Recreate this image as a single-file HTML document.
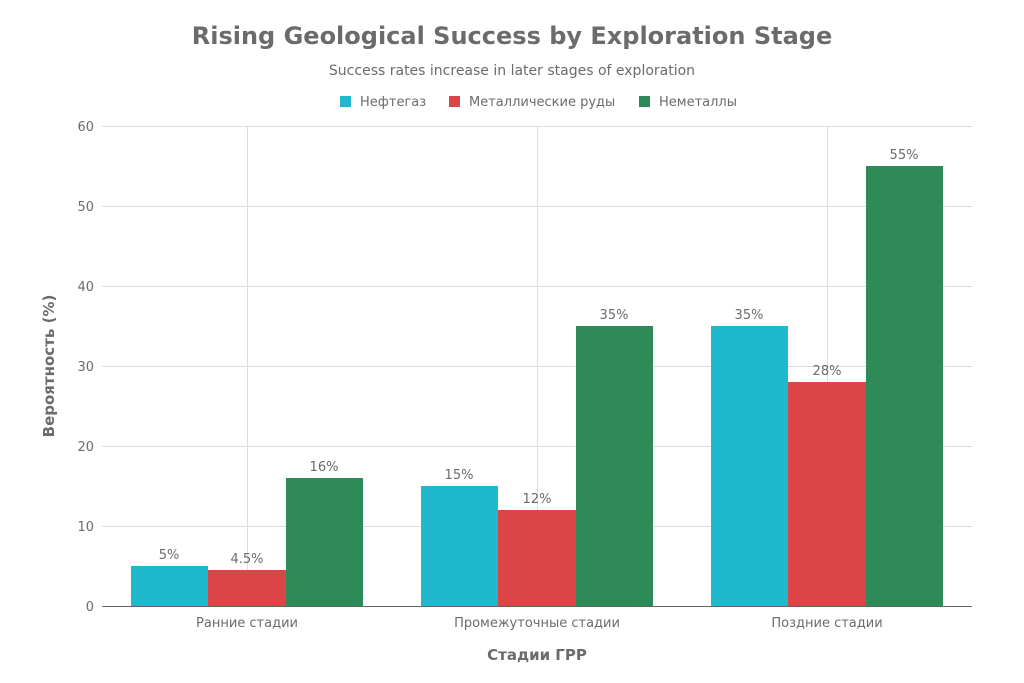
<!DOCTYPE html>
<html><head><meta charset="utf-8"><style>body{margin:0;background:#fff}svg{display:block}text{font-family:"DejaVu Sans","Liberation Sans",sans-serif;fill:#6b6b6b}</style></head>
<body>
<svg width="1024" height="683" viewBox="0 0 1024 683" xmlns="http://www.w3.org/2000/svg">
<text x="512" y="44" text-anchor="middle" font-size="24" font-weight="bold">Rising Geological Success by Exploration Stage</text>
<text x="512" y="75" text-anchor="middle" font-size="14">Success rates increase in later stages of exploration</text>
<rect x="340" y="96" width="11" height="11" fill="#1fb8cd"/><text x="360" y="106" font-size="13">Нефтегаз</text>
<rect x="449" y="96" width="11" height="11" fill="#db4545"/><text x="469" y="106" font-size="13">Металлические руды</text>
<rect x="639" y="96" width="11" height="11" fill="#2e8b57"/><text x="659" y="106" font-size="13">Неметаллы</text>
<g stroke="#dddddd" stroke-width="1">
<line x1="102" y1="126.5" x2="972" y2="126.5"/><line x1="102" y1="206.5" x2="972" y2="206.5"/><line x1="102" y1="286.5" x2="972" y2="286.5"/><line x1="102" y1="366.5" x2="972" y2="366.5"/><line x1="102" y1="446.5" x2="972" y2="446.5"/><line x1="102" y1="526.5" x2="972" y2="526.5"/>
<line x1="247.5" y1="126" x2="247.5" y2="606"/><line x1="537.5" y1="126" x2="537.5" y2="606"/><line x1="827.5" y1="126" x2="827.5" y2="606"/>
</g>
<g font-size="13" text-anchor="end">
<text x="94" y="131">60</text><text x="94" y="211">50</text><text x="94" y="291">40</text><text x="94" y="371">30</text><text x="94" y="451">20</text><text x="94" y="531">10</text><text x="94" y="611">0</text>
</g>
<rect x="131" y="566" width="77" height="40" fill="#1fb8cd"/>
<rect x="208" y="570" width="78" height="36" fill="#db4545"/>
<rect x="286" y="478" width="77" height="128" fill="#2e8b57"/>
<rect x="421" y="486" width="77" height="120" fill="#1fb8cd"/>
<rect x="498" y="510" width="78" height="96" fill="#db4545"/>
<rect x="576" y="326" width="77" height="280" fill="#2e8b57"/>
<rect x="711" y="326" width="77" height="280" fill="#1fb8cd"/>
<rect x="788" y="382" width="78" height="224" fill="#db4545"/>
<rect x="866" y="166" width="77" height="440" fill="#2e8b57"/>
<line x1="102" y1="606.5" x2="972" y2="606.5" stroke="#666" stroke-width="1"/>
<g font-size="13" text-anchor="middle">
<text x="169" y="559">5%</text><text x="247" y="563">4.5%</text><text x="324" y="471">16%</text>
<text x="459" y="479">15%</text><text x="537" y="503">12%</text><text x="614" y="319">35%</text>
<text x="749" y="319">35%</text><text x="827" y="375">28%</text><text x="904" y="159">55%</text>
<text x="247" y="627">Ранние стадии</text><text x="537" y="627">Промежуточные стадии</text><text x="827" y="627">Поздние стадии</text>
</g>
<text x="537" y="660" text-anchor="middle" font-size="15" font-weight="bold">Стадии ГРР</text>
<text transform="translate(54,366) rotate(-90)" text-anchor="middle" font-size="15" font-weight="bold">Вероятность (%)</text>
</svg>
</body></html>
